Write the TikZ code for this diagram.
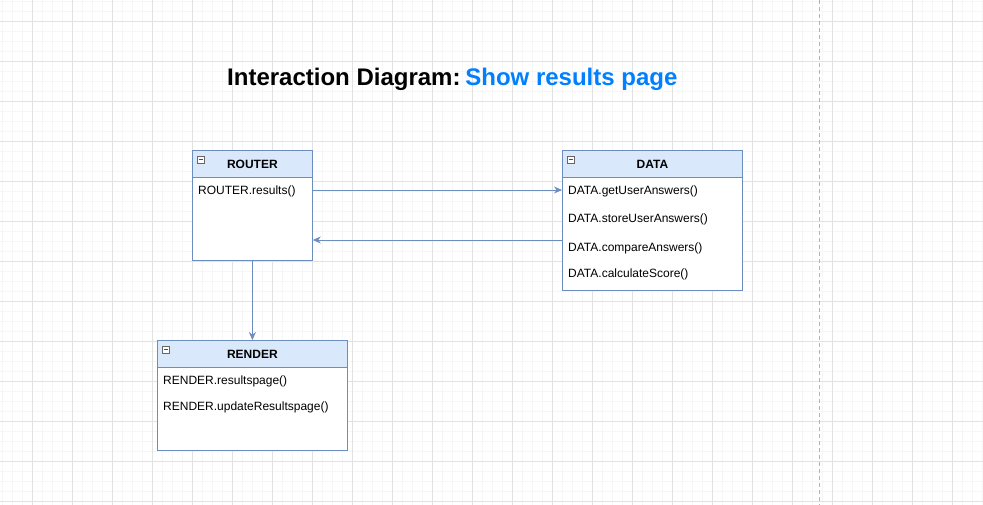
\documentclass[tikz,border=0pt]{standalone}
\usepackage{fontspec}
\setmainfont{Liberation Sans}
\usetikzlibrary{arrows.meta,positioning}
\definecolor{hdrfill}{HTML}{DAE8FC}
\definecolor{hdrline}{HTML}{6C8EBF}
\definecolor{titleblue}{HTML}{007FFF}
\definecolor{gridmajor}{HTML}{E2E2E2}
\definecolor{gridminor}{HTML}{F6F6F6}
\tikzset{
  classbox/.style={draw=hdrline, fill=white, line width=0.8pt, inner sep=0pt, anchor=north west},
  hdrbox/.style={draw=hdrline, fill=hdrfill, line width=0.8pt, inner sep=0pt, anchor=north west,
     font=\fontsize{12}{14}\selectfont\bfseries},
  member/.style={anchor=west, inner sep=0pt, font=\fontsize{12}{14}\selectfont},
  conn/.style={draw=hdrline, line width=0.8pt, -{Stealth[length=8pt,width=7pt]}},
  minusicon/.style={draw=black!60, fill=white, line width=0.5pt, minimum size=7pt, inner sep=0pt}
}
\begin{document}
\begin{tikzpicture}[x=1pt,y=-1pt]
\useasboundingbox (0,0) rectangle (983,505);
\fill[white] (0,0) rectangle (983,505);
% minor grid
\foreach \x in {2,12,...,982} \draw[gridminor, line width=0.6pt] (\x,0) -- (\x,505);
\foreach \y in {1,11,...,501} \draw[gridminor, line width=0.6pt] (0,\y) -- (983,\y);
% major grid
\foreach \x in {32,72,...,972} \draw[gridmajor, line width=0.8pt] (\x,0) -- (\x,505);
\foreach \y in {21,61,...,501} \draw[gridmajor, line width=0.8pt] (0,\y) -- (983,\y);
% page break dashed line
\draw[black!30, line width=0.8pt, dash pattern=on 4pt off 3pt] (819,0) -- (819,505);

% title
\node[anchor=west, inner sep=0pt, font=\fontsize{24}{28}\selectfont\bfseries] (title) at (227,79)
  {Interaction Diagram:\hspace{0.2em}\textcolor{titleblue}{Show results page}};

% ROUTER
\node[classbox, minimum width=120pt, minimum height=110pt] (router) at (192,150) {};
\node[hdrbox, minimum width=120pt, minimum height=27pt] (routerhdr) at (192,150) {ROUTER};
\node[minusicon] (routermin) at (201,159.5) {};
\draw[black!70, line width=0.6pt] ([xshift=1.5pt]routermin.west) -- ([xshift=-1.5pt]routermin.east);
\node[member] (rres) at (198,191.5) {ROUTER.results()};

% DATA
\node[classbox, minimum width=180pt, minimum height=140pt] (data) at (562,150) {};
\node[hdrbox, minimum width=180pt, minimum height=27pt] (datahdr) at (562,150) {DATA};
\node[minusicon] (datamin) at (571,159.5) {};
\draw[black!70, line width=0.6pt] ([xshift=1.5pt]datamin.west) -- ([xshift=-1.5pt]datamin.east);
\node[member] (dget) at (568,191.5) {DATA.getUserAnswers()};
\node[member] (dstore) at (568,219.5) {DATA.storeUserAnswers()};
\node[member] (dcomp) at (568,248.5) {DATA.compareAnswers()};
\node[member] (dcalc) at (568,274.5) {DATA.calculateScore()};

% RENDER
\node[classbox, minimum width=190pt, minimum height=110pt] (render) at (157,340) {};
\node[hdrbox, minimum width=190pt, minimum height=27pt] (renderhdr) at (157,340) {RENDER};
\node[minusicon] (rendermin) at (166,349.5) {};
\draw[black!70, line width=0.6pt] ([xshift=1.5pt]rendermin.west) -- ([xshift=-1.5pt]rendermin.east);
\node[member] (rpage) at (163,381.5) {RENDER.resultspage()};
\node[member] (rupd) at (163,407.5) {RENDER.updateResultspage()};

% connectors
\coordinate (a1) at (router.east |- 0,190);
\coordinate (a2) at (data.west |- 0,190);
\draw[conn] (a1) -- (a2);
\coordinate (b1) at (data.west |- 0,240);
\coordinate (b2) at (router.east |- 0,240);
\draw[conn] (b1) -- (b2);
\draw[conn] (router.south) -- (render.north -| router.south);
\end{tikzpicture}
\end{document}
